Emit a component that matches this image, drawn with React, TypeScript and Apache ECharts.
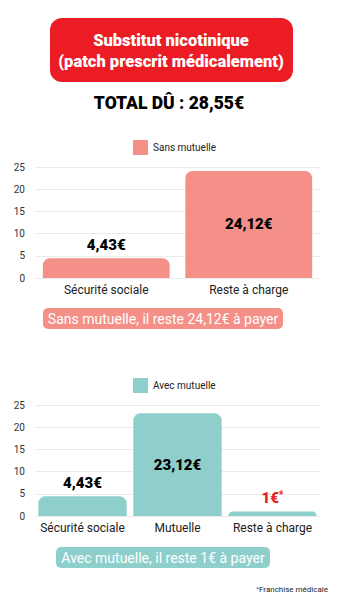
import React, { useEffect, useRef } from "react";
import * as echarts from "echarts";

const title1 = "Substitut nicotinique";
const title2 = "(patch prescrit médicalement)";
const totalText = "TOTAL DÛ : 28,55€";

const series1Name = "Sans mutuelle";
const categories1 = ["Sécurité sociale", "Reste à charge"];
const values1 = [4.43, 24.12];
const banner1 = "Sans mutuelle, il reste 24,12€ à payer";

const series2Name = "Avec mutuelle";
const categories2 = ["Sécurité sociale", "Mutuelle", "Reste à charge"];
const values2 = [4.43, 23.12, 1];
const markers2 = ["", "", "*"];
const banner2 = "Avec mutuelle, il reste 1€ à payer";

const footnote = "Franchise médicale";

const yMin = 0;
const yMax = 25;
const yInterval = 5;

const FONT = "Roboto, 'Noto Sans', sans-serif";
const SALMON = "#F49088";
const TEAL = "#8ECFCC";
const RED = "#EC1C24";

function fmtEuro(v: number): string {
  const s = Number.isInteger(v) ? String(v) : v.toFixed(2).replace(".", ",");
  return s + "€";
}

export default function App() {
  const ref = useRef<HTMLDivElement>(null);
  useEffect(() => {
    if (!ref.current) return;
    const chart = echarts.init(ref.current, null, { renderer: "svg" });

    const yAxisBase = (gridIndex: number) => ({
      type: "value",
      gridIndex,
      min: yMin,
      max: yMax,
      interval: yInterval,
      axisLine: { show: false },
      axisTick: { show: false },
      axisLabel: { color: "#333", fontSize: 10, fontFamily: FONT, margin: 10 },
      splitLine: { lineStyle: { color: "#EBEBEB", width: 1 } },
    });
    const xAxisBase = (gridIndex: number, data: string[]) => ({
      type: "category",
      gridIndex,
      data,
      axisLine: { show: false },
      axisTick: { show: false },
      axisLabel: { color: "#222", fontSize: 12, fontFamily: FONT, margin: 6, interval: 0 },
    });

    const labelPos1 = ["top", "inside"];
    const labelPos2 = ["top", "inside", "top"];

    const data1 = values1.map((v, i) => ({
      value: v,
      label: {
        show: true,
        position: labelPos1[i],
        formatter: fmtEuro(v),
        color: "#000",
        fontSize: 15,
        fontWeight: 900,
        fontFamily: FONT,
        distance: 6,
      },
    }));
    const data2 = values2.map((v, i) => ({
      value: v,
      label: {
        show: true,
        position: labelPos2[i],
        formatter: markers2[i] ? fmtEuro(v) + "{s|" + markers2[i] + "}" : fmtEuro(v),
        color: markers2[i] ? RED : "#000",
        fontSize: 15,
        fontWeight: 900,
        fontFamily: FONT,
        distance: 6,
        rich: {
          s: { fontSize: 10, fontWeight: 900, color: RED, verticalAlign: "top", padding: [0, 0, 6, 0], fontFamily: FONT },
        },
      },
    }));

    chart.setOption({
      animation: false,
      textStyle: { fontFamily: FONT },
      grid: [
        { left: 35, right: 18, top: 167, height: 111 },
        { left: 35, right: 18, top: 405, height: 111 },
      ],
      legend: [
        {
          data: [series1Name],
          top: 135,
          left: 128,
          icon: "rect",
          itemWidth: 15,
          itemHeight: 15,
          textStyle: { fontSize: 10, color: "#222", fontFamily: FONT },
        },
        {
          data: [series2Name],
          top: 373,
          left: 128,
          icon: "rect",
          itemWidth: 15,
          itemHeight: 15,
          textStyle: { fontSize: 10, color: "#222", fontFamily: FONT },
        },
      ],
      xAxis: [xAxisBase(0, categories1), xAxisBase(1, categories2)],
      yAxis: [yAxisBase(0), yAxisBase(1)],
      series: [
        {
          name: series1Name,
          type: "bar",
          xAxisIndex: 0,
          yAxisIndex: 0,
          data: data1,
          barCategoryGap: "11%",
          itemStyle: { color: SALMON, borderRadius: [7, 7, 0, 0] },
        },
        {
          name: series2Name,
          type: "bar",
          xAxisIndex: 1,
          yAxisIndex: 1,
          data: data2,
          barCategoryGap: "7%",
          itemStyle: { color: TEAL, borderRadius: [7, 7, 0, 0] },
        },
      ],
      graphic: [
        {
          type: "rect",
          shape: { x: 50, y: 18, width: 243, height: 64, r: 12 },
          style: { fill: RED },
        },
        {
          type: "text",
          x: 171,
          y: 40,
          style: {
            text: title1,
            fill: "#fff",
            font: `900 16.5px ${FONT}`,
            align: "center",
            verticalAlign: "middle",
          },
        },
        {
          type: "text",
          x: 171,
          y: 61,
          style: {
            text: title2,
            fill: "#fff",
            font: `900 16.5px ${FONT}`,
            align: "center",
            verticalAlign: "middle",
          },
        },
        {
          type: "text",
          x: 169,
          y: 103,
          style: {
            text: totalText,
            fill: "#000",
            font: `900 17.5px ${FONT}`,
            align: "center",
            verticalAlign: "middle",
          },
        },
        {
          type: "rect",
          shape: { x: 43, y: 308, width: 240, height: 21, r: 5 },
          style: { fill: SALMON },
        },
        {
          type: "text",
          x: 163,
          y: 319,
          style: {
            text: banner1,
            fill: "#fff",
            font: `400 14px ${FONT}`,
            align: "center",
            verticalAlign: "middle",
          },
        },
        {
          type: "rect",
          shape: { x: 56, y: 547, width: 214, height: 21, r: 5 },
          style: { fill: TEAL },
        },
        {
          type: "text",
          x: 163,
          y: 558,
          style: {
            text: banner2,
            fill: "#fff",
            font: `400 14px ${FONT}`,
            align: "center",
            verticalAlign: "middle",
          },
        },
        {
          type: "text",
          x: 328,
          y: 589,
          style: {
            text: "{s|*}{t|" + footnote + "}",
            align: "right",
            verticalAlign: "middle",
            rich: {
              s: { fontSize: 6, fill: "#222", verticalAlign: "top", fontFamily: FONT },
              t: { fontSize: 8, fill: "#222", fontFamily: FONT },
            },
          },
        },
      ],
    });

    return () => chart.dispose();
  }, []);

  return (
    <div
      ref={ref}
      style={{ position: "absolute", left: 0, top: 0, width: 338, height: 600, background: "#fff" }}
    />
  );
}
